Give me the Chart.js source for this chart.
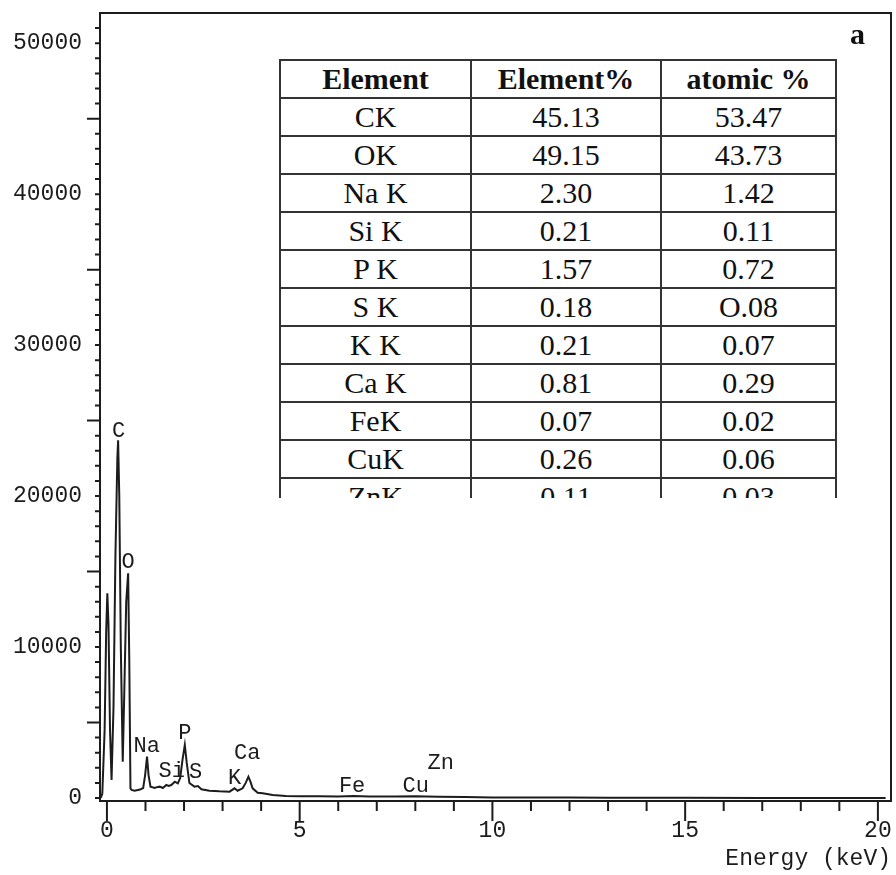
<!DOCTYPE html>
<html>
<head>
<meta charset="utf-8">
<script src="https://cdn.jsdelivr.net/npm/chart.js@4.4.0/dist/chart.umd.min.js"></script>
<style>
  body { margin: 0; background: #fff; }
  #wrap { position: relative; width: 896px; height: 875px; }
  #panel { position: absolute; left: 850px; top: 17px; font: bold 30px "Liberation Serif", serif; color: #111; }
  #tableBox { position: absolute; left: 279px; top: 59px; width: 560px; height: 439px; overflow: hidden; background: #fff; }
  #tableBox table { border-collapse: collapse; font-family: "Liberation Serif", serif; font-size: 30px; color: #111; }
  #tableBox th, #tableBox td { border: 2px solid #333; height: 36px; padding: 0; text-align: center; line-height: 34px; }
  #tableBox th { font-weight: bold; }
</style>
</head>
<body>
<div id="wrap">
  <canvas id="edsChart" width="896" height="875"></canvas>
  <div id="tableBox"><table id="compTable"></table></div>
  <div id="panel">a</div>
</div>
<script>
// EDS spectrum
const energies = [
  -0.16, -0.12, -0.06, -0.02, 0.01, 0.04, 0.08, 0.12,
  0.17, 0.22, 0.27, 0.29, 0.32, 0.36, 0.41,
  0.45, 0.50, 0.55, 0.58, 0.61, 0.64, 0.72,
  0.86, 0.94, 0.99, 1.04, 1.08, 1.13, 1.24,
  1.30, 1.37, 1.45, 1.54, 1.60, 1.67, 1.76, 1.84, 1.90,
  1.96, 2.02, 2.07, 2.14, 2.27, 2.36, 2.45, 2.66, 2.92, 3.18,
  3.31, 3.39, 3.52, 3.60, 3.67, 3.72, 3.78, 3.91, 4.04, 4.30, 4.64,
  5.0, 5.5, 6.0, 6.4, 6.8, 7.5, 8.0, 8.6, 9.3, 10.0, 11, 12, 13, 15, 17, 20.2
];
const counts = [
  0, 300, 4500, 11000, 13560, 11500, 4500, 1190,
  6000, 16000, 22500, 23700, 20000, 10000, 2400,
  7000, 13000, 14880, 9000, 640, 530, 480,
  560, 660, 1500, 2740, 1500, 750, 660,
  720, 750, 660, 860, 800, 860, 1080, 970, 1320,
  2520, 3510, 2320, 990, 750, 790, 580, 480, 440, 420,
  640, 480, 640, 1000, 1410, 1100, 640, 350, 310, 200, 130,
  120, 110, 100, 130, 100, 90, 110, 80, 60, 40, 30, 25, 20, 10, 5, 0
];

// peak labels: text, energy (keV), counts where the label sits
const peakNames = ['C', 'O', 'Na', 'Si', 'P', 'S', 'K', 'Ca', 'Fe', 'Cu', 'Zn'];
const peakEnergy = [0.30, 0.55, 1.03, 1.68, 2.02, 2.30, 3.31, 3.64, 6.36, 8.01, 8.66];
const peakCounts = [24300, 15650, 3440, 1790, 4300, 1720, 1320, 2980, 790, 790, 2320];

// axis ticks
const xTicks = [0, 5, 10, 15, 20];
const yTicks = [0, 10000, 20000, 30000, 40000, 50000];

// composition table
const tableHeader = ['Element', 'Element%', 'atomic %'];
const tableElements = ['CK', 'OK', 'Na K', 'Si K', 'P K', 'S K', 'K K', 'Ca K', 'FeK', 'CuK', 'ZnK'];
const elementPct = ['45.13', '49.15', '2.30', '0.21', '1.57', '0.18', '0.21', '0.81', '0.07', '0.26', '0.11'];
const atomicPct = ['53.47', '43.73', '1.42', '0.11', '0.72', 'O.08', '0.07', '0.29', '0.02', '0.06', '0.03'];

const INK = '#1c1c1c';
const MONO = '"Liberation Mono", "DejaVu Sans Mono", monospace';

// build the table
const table = document.getElementById('compTable');
const colWidths = [191, 190, 175];
let html = '<colgroup>' + colWidths.map(w => `<col style="width:${w}px">`).join('') + '</colgroup>';
html += '<tr>' + tableHeader.map(h => `<th>${h}</th>`).join('') + '</tr>';
tableElements.forEach((el, i) => {
    html += `<tr><td>${el}</td><td>${elementPct[i]}</td><td>${atomicPct[i]}</td></tr>`;
});
table.innerHTML = html;

// minor ticks, frame and peak labels
const spectrumDecor = {
    id: 'spectrumDecor',
    afterDraw(chart) {
        const { ctx, chartArea: a, scales: { x, y } } = chart;
        ctx.save();
        ctx.strokeStyle = INK;
        ctx.lineWidth = 2;
        ctx.beginPath();
        for (let v = 0; v <= 20; v++) {
            const px = x.getPixelForValue(v);
            const len = v % 5 === 0 ? 20 : 10;
            ctx.moveTo(px, a.bottom);
            ctx.lineTo(px, a.bottom + len);
        }
        for (let v = 0; v <= 51000; v += 1000) {
            const py = y.getPixelForValue(v);
            const len = (v % 5000 === 0 && v % 10000 !== 0) ? 13 : 5;
            ctx.moveTo(a.left, py);
            ctx.lineTo(a.left - len, py);
        }
        ctx.moveTo(a.left, a.top);
        ctx.lineTo(a.right, a.top);
        ctx.lineTo(a.right, a.bottom);
        ctx.stroke();

        ctx.fillStyle = INK;
        ctx.font = '22px ' + MONO;
        ctx.textAlign = 'center';
        ctx.textBaseline = 'middle';
        peakNames.forEach((name, i) => {
            ctx.fillText(name, x.getPixelForValue(peakEnergy[i]), y.getPixelForValue(peakCounts[i]));
        });
        ctx.restore();
    }
};

new Chart(document.getElementById('edsChart'), {
    type: 'line',
    data: {
        datasets: [{
            data: energies.map((e, i) => ({ x: e, y: counts[i] })),
            borderColor: INK,
            borderWidth: 2,
            pointRadius: 0,
            tension: 0,
            fill: false
        }]
    },
    options: {
        responsive: false,
        animation: false,
        layout: { padding: { top: 13, right: 5, left: 0, bottom: 0 } },
        plugins: { legend: { display: false }, tooltip: { enabled: false } },
        scales: {
            x: {
                type: 'linear',
                min: -0.18,
                max: 20.34,
                afterFit: s => { s.height = 74; s.paddingLeft = 0; s.paddingRight = 0; },
                afterBuildTicks: s => { s.ticks = xTicks.map(v => ({ value: v })); },
                grid: { display: true, drawOnChartArea: false, drawTicks: false },
                border: { display: true, color: INK, width: 2 },
                ticks: {
                    padding: 16,
                    maxRotation: 0,
                    color: INK,
                    font: { family: MONO, size: 23 },
                    callback: v => String(v)
                },
                title: {
                    display: true,
                    text: 'Energy (keV)',
                    align: 'end',
                    color: INK,
                    font: { family: MONO, size: 23 },
                    padding: { top: 0, bottom: 2 }
                }
            },
            y: {
                min: -200,
                max: 52000,
                afterFit: s => { s.width = 100; s.paddingTop = 0; s.paddingBottom = 0; },
                afterBuildTicks: s => { s.ticks = yTicks.map(v => ({ value: v })); },
                grid: { display: true, drawOnChartArea: false, drawTicks: false },
                border: { display: true, color: INK, width: 2 },
                ticks: {
                    padding: 18,
                    color: INK,
                    font: { family: MONO, size: 23 },
                    callback: v => String(v)
                }
            }
        }
    },
    plugins: [spectrumDecor]
});
</script>
</body>
</html>
